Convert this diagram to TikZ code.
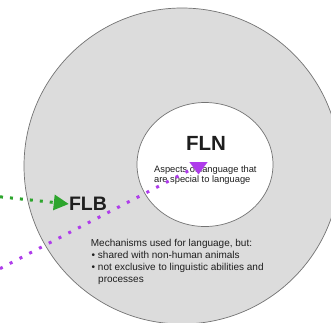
\documentclass[tikz,border=0pt]{standalone}
\usepackage{fontspec}
\setmainfont{Liberation Sans}
\usetikzlibrary{arrows.meta}
\definecolor{meshgray}{RGB}{220,220,220}
\definecolor{rimgray}{RGB}{115,115,115}
\definecolor{dotgreen}{RGB}{45,165,45}
\definecolor{dotviolet}{RGB}{175,60,235}
\definecolor{inkgray}{RGB}{30,30,30}
\tikzset{
  rim/.style={draw=rimgray, line width=0.7pt},
  lbl/.style={inner sep=0pt, text=inkgray},
  smalltxt/.style={lbl, anchor=base west, font=\fontsize{9.3}{11}\selectfont},
  bodytxt/.style={lbl, anchor=base west, font=\fontsize{10}{12}\selectfont},
  gdots/.style={draw=dotgreen, line width=3pt, dash pattern=on 3pt off 7pt},
  vdots/.style={draw=dotviolet, line width=3pt, dash pattern=on 3pt off 8pt},
}
\begin{document}
\begin{tikzpicture}[x=1pt,y=-1pt]
  \useasboundingbox (0,0) rectangle (331,322);
  \fill[white] (0,0) rectangle (331,322);

  % faculty of language, broad sense (outer disc) and narrow sense (inner disc)
  \draw[rim, fill=meshgray] (182,166) circle[radius=158pt];
  \draw[rim, fill=white] (205,164.5) ellipse[x radius=68pt, y radius=62pt];

  % labels
  \node[lbl, anchor=base, font=\bfseries\fontsize{20.5}{24}\selectfont] (fln) at (206,150.7) {FLN};
  \node[smalltxt] (fln1) at (154,172.2) {Aspects of language that};
  \node[smalltxt] (fln2) at (154,182.6) {are special to language};

  \node[lbl, anchor=base west, font=\bfseries\fontsize{19.5}{23}\selectfont] (flb) at (68.8,210.7) {FLB};

  \node[bodytxt] (m1) at (90.7,246) {Mechanisms used for language, but:};
  \node[bodytxt] (m2) at (91.5,258.4) {\textbullet\ shared with non-human animals};
  \node[bodytxt] (m3) at (91.5,270.6) {\textbullet\ not exclusive to linguistic abilities and};
  \node[bodytxt] (m4) at (98,282.6) {processes};

  % pointers
  \coordinate (gstart) at (0,196.8);
  \draw[gdots, -{Triangle[length=15pt,width=15pt]}] (gstart) -- (flb.west);

  \coordinate (pstart) at (0,268.6);
  \coordinate (pend) at (195,167.4);
  \coordinate (ptop) at (198.5,162);
  \coordinate (ptip) at (198.5,174.3);
  \draw[vdots] (pstart) -- (pend);
  \draw[draw=dotviolet, line width=0.1pt, -{Triangle[length=12.3pt,width=18pt]}] (ptop) -- (ptip);
\end{tikzpicture}
\end{document}
